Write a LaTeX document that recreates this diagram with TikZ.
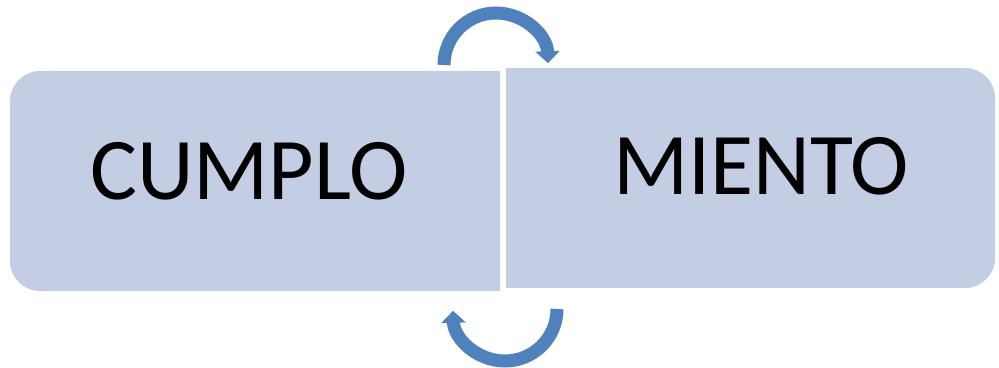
\documentclass[tikz,border=0pt]{standalone}
\usepackage{fontspec}
\setmainfont{Carlito}
\usetikzlibrary{arrows.meta}
\definecolor{boxblue}{HTML}{C3CDE3}
\definecolor{arcblue}{HTML}{4F81BD}
\tikzset{
  word/.style={anchor=base, text=black, font=\fontsize{88}{100}\selectfont, inner sep=0pt},
  cyclearrow/.style={draw=arcblue, line width=13pt, -{Triangle[width=24pt,length=12pt]}}
}
\begin{document}
\begin{tikzpicture}[x=1pt,y=1pt]
      \useasboundingbox (0,0) rectangle (999,367);
      % Define boxes
      \fill[boxblue] (500,76) -- (40,76) arc[start angle=270, end angle=180, radius=30]
        -- (10,266) arc[start angle=180, end angle=90, radius=30] -- (500,296) -- cycle;
      \fill[boxblue] (506,79) -- (965,79) arc[start angle=-90, end angle=0, radius=30]
        -- (995,269) arc[start angle=0, end angle=90, radius=30] -- (506,299) -- cycle;
      % Define nodes
      \node[word] (cumplo) at (249,167) {CUMPLO};
      \node[word] (miento) at (761,172) {MIENTO};
      \coordinate (topstart) at (444,302);
      \coordinate (botstart) at (557,58);
      % Connect nodes
      \draw[cyclearrow] (topstart) arc[start angle=180, end angle=2, radius=52];
      \draw[cyclearrow] (botstart) arc[start angle=0, end angle=-178, radius=52];
    \end{tikzpicture}
\end{document}
